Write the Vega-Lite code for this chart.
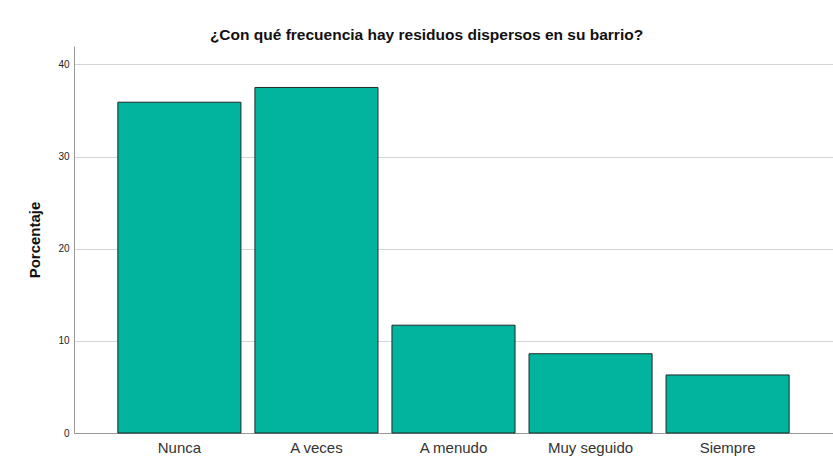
{
  "$schema": "https://vega.github.io/schema/vega-lite/v6.json",
  "autosize": "none",
  "width": 759,
  "height": 387,
  "padding": {"left": 74, "top": 46, "right": 0, "bottom": 29},
  "background": "white",
  "title": {
    "text": "¿Con qué frecuencia hay residuos dispersos en su barrio?",
    "font": "Liberation Sans",
    "fontSize": 15.5,
    "fontWeight": "bold",
    "color": "#111111",
    "anchor": "middle",
    "dx": -27,
    "offset": 3
  },
  "data": {
    "values": [
      {"categoria": "Nunca", "porcentaje": 35.9},
      {"categoria": "A veces", "porcentaje": 37.5},
      {"categoria": "A menudo", "porcentaje": 11.7},
      {"categoria": "Muy seguido", "porcentaje": 8.6},
      {"categoria": "Siempre", "porcentaje": 6.3}
    ]
  },
  "mark": {"type": "bar", "color": "#02B39E", "stroke": "#1f2a28", "strokeWidth": 1},
  "encoding": {
    "x": {
      "field": "categoria",
      "type": "nominal",
      "sort": null,
      "scale": {"paddingInner": 0.102, "paddingOuter": 0.32},
      "axis": {
        "title": null,
        "labelAngle": 0,
        "ticks": false,
        "labelPadding": 7,
        "labelFont": "Liberation Sans",
        "labelFontSize": 15,
        "labelColor": "#333333",
        "domainColor": "#999999",
        "grid": false
      }
    },
    "y": {
      "field": "porcentaje",
      "type": "quantitative",
      "scale": {"domain": [0, 42], "nice": false},
      "axis": {
        "title": "Porcentaje",
        "titleFont": "Liberation Sans",
        "titleFontSize": 15,
        "titleFontWeight": "bold",
        "titleColor": "#111111",
        "titlePadding": 15,
        "values": [0, 10, 20, 30, 40],
        "ticks": false,
        "labelPadding": 5,
        "labelFont": "Liberation Sans",
        "labelFontSize": 10,
        "labelColor": "#222222",
        "domainColor": "#999999",
        "gridColor": "#d4d4d4",
        "gridWidth": 1
      }
    }
  },
  "config": {"view": {"stroke": null}}
}
